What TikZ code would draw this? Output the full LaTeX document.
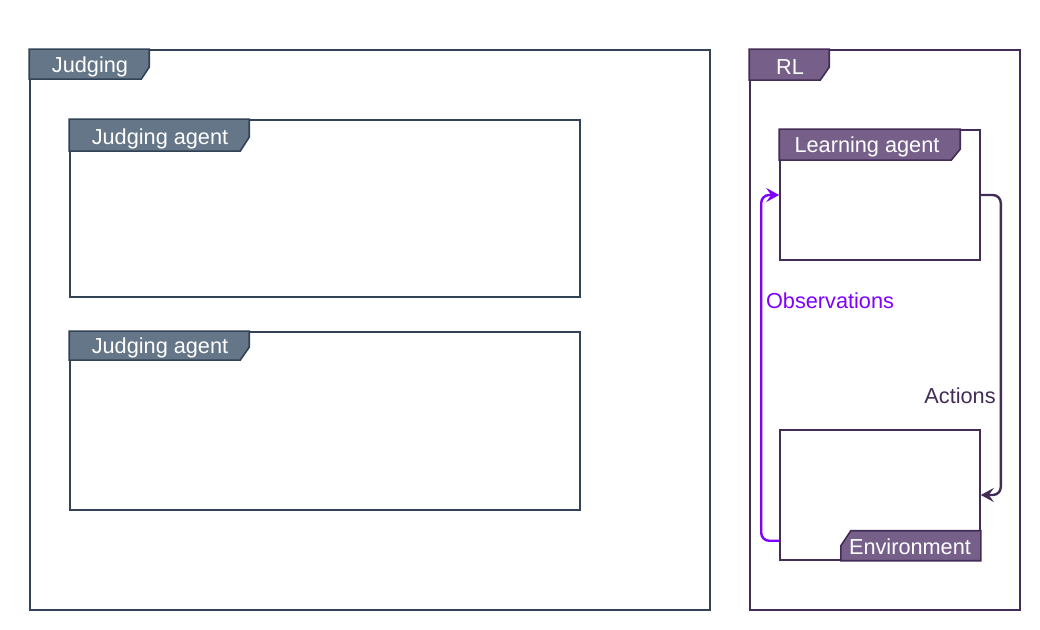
\documentclass[tikz,border=0pt]{standalone}
\usepackage{fontspec}
\setmainfont{Liberation Sans}
\usetikzlibrary{arrows.meta,calc}
\definecolor{slatefill}{HTML}{647687}
\definecolor{slateline}{HTML}{314354}
\definecolor{plumfill}{HTML}{76608A}
\definecolor{plumline}{HTML}{432D57}
\definecolor{violetline}{HTML}{7F00FF}
\tikzset{
  frame/.style={draw, fill=white, line width=0.8pt, inner sep=0pt},
  judgeframe/.style={frame, draw=slateline},
  rlframe/.style={frame, draw=plumline},
  judgetab/.style={fill=slatefill, draw=slateline, line width=0.8pt},
  rltab/.style={fill=plumfill, draw=plumline, line width=0.8pt},
  tablabel/.style={text=white, inner sep=0pt, font=\fontsize{10.85}{13}\selectfont},
  flowlabel/.style={inner sep=0pt, font=\fontsize{10.85}{13}\selectfont},
  flow/.style={line width=1.2pt, rounded corners=4pt, -{Stealth[length=6.5pt,width=7pt,inset=2.5pt]}}
}
\begin{document}
\begin{tikzpicture}[x=0.5pt,y=-0.5pt]
  \useasboundingbox (0,0) rectangle (1040,630);
  % judging side
  \node[judgeframe, minimum width=340pt, minimum height=280pt] (judging) at (370,330) {};
  \filldraw[judgetab] (judging.north west) -- ++(120,0) -- ++(0,18) -- ++(-8,12) -- ++(-112,0) -- cycle;
  \node[tablabel] (judginglbl) at (90,67) {Judging};
  \node[judgeframe, minimum width=255pt, minimum height=88.5pt] (jagenta) at (325,208.5) {};
  \filldraw[judgetab] (jagenta.north west) -- ++(180,0) -- ++(0,18) -- ++(-9,14) -- ++(-171,0) -- cycle;
  \node[tablabel] (jagentalbl) at (160,139) {Judging agent};
  \node[judgeframe, minimum width=255pt, minimum height=89pt] (jagentb) at (325,421) {};
  \filldraw[judgetab] (jagentb.north west) -- ++(180,0) -- ++(0,16) -- ++(-9,13) -- ++(-171,0) -- cycle;
  \node[tablabel] (jagentblbl) at (160,348) {Judging agent};
  % rl side
  \node[rlframe, minimum width=135pt, minimum height=280pt] (rl) at (885,330) {};
  \filldraw[rltab] (rl.north west) -- ++(80,0) -- ++(0,18) -- ++(-9,13) -- ++(-71,0) -- cycle;
  \node[tablabel] (rllbl) at (790,67) {RL};
  \node[rlframe, minimum width=100pt, minimum height=65pt] (learn) at (880,195) {};
  \filldraw[rltab] (learn.north west) -- ++(181,0) -- ++(0,20) -- ++(-9,11) -- ++(-172,0) -- cycle;
  \node[tablabel] (learnlbl) at (867,147) {Learning agent};
  \node[rlframe, minimum width=100pt, minimum height=65pt] (env) at (880,495) {};
  \filldraw[rltab] (env.south east) -- ++(0,-30) -- ++(-130,0) -- ++(-10,15) -- ++(0,15) -- cycle;
  \node[tablabel] (envlbl) at (910,547) {Environment};
  % loop
  \draw[flow, plumline] (learn.east) -| ([xshift=10pt]env.east) -- (env.east);
  \draw[flow, violetline] ([yshift=10pt]env.south west) -| ([xshift=-9pt]learn.west) -- (learn.west);
  \node[flowlabel, text=plumline, anchor=east] (actlbl) at (996,396) {Actions};
  \node[flowlabel, text=violetline] (obslbl) at (830,301) {Observations};
\end{tikzpicture}
\end{document}
